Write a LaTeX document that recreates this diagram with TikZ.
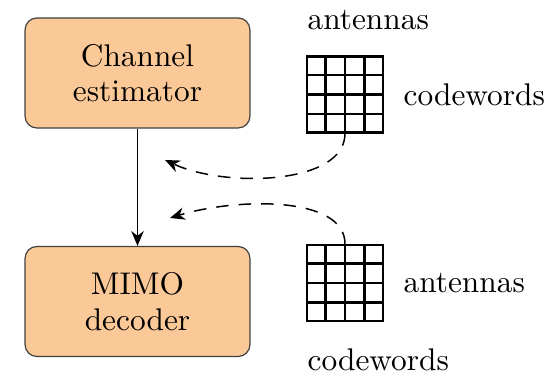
\documentclass[tikz,border=0pt]{standalone}
\usepackage{tikz}
\usetikzlibrary{arrows.meta,positioning,calc}
\definecolor{boxfill}{RGB}{251,201,152}
\begin{document}
\begin{tikzpicture}[x=0.338pt,y=-0.338pt,
	blk/.style={draw=black!75,fill=boxfill,rounded corners=4pt,minimum width=76pt,minimum height=37.2pt,align=center,font=\fontsize{10.6}{12}\selectfont},
	grd/.style={draw,line width=0.7pt,minimum size=25.7pt,inner sep=0pt},
	lbl/.style={inner sep=0pt,font=\fontsize{10.6}{12}\selectfont},
	tip/.style={line width=0.5pt,-{Stealth[length=5pt,width=4.2pt,inset=1.6pt]}},
	dsh/.style={tip,dash pattern=on 4.2pt off 3.4pt}]
	\useasboundingbox (0,0) rectangle (557,373);
	\node (Ch) at (137.5,73) [blk] {Channel\\estimator};
	\node (Mi) at (137.5,301.5) [blk] {MIMO\\decoder};
	\node (gA) at (345,94.5) [grd] {};
	\node (gB) at (345,283) [grd] {};
	\foreach \g in {gA,gB}
		\foreach \i in {1,2,3} {
			\draw[line width=0.7pt] ($(\g.north west)!\i/4!(\g.north east)$) -- ($(\g.south west)!\i/4!(\g.south east)$);
			\draw[line width=0.7pt] ($(\g.north west)!\i/4!(\g.south west)$) -- ($(\g.north east)!\i/4!(\g.south east)$);
		}
	\node (aA) at (307,20) [lbl,anchor=west] {antennas};
	\node (cA) [lbl,right=6.4pt of gA] {codewords};
	\node (aB) [lbl,right=6.4pt of gB] {antennas};
	\node (cB) at (307,360) [lbl,anchor=west] {codewords};
	\coordinate (tA) at (165,160);
	\coordinate (tB) at (170,218);
	\draw[tip] (Ch) -- (Mi);
	\draw[dsh] (gA.south) .. controls (345,185) and (225,188) .. (tA);
	\draw[dsh] (gB.north) .. controls (345,195) and (235,198) .. (tB);
\end{tikzpicture}
\end{document}
